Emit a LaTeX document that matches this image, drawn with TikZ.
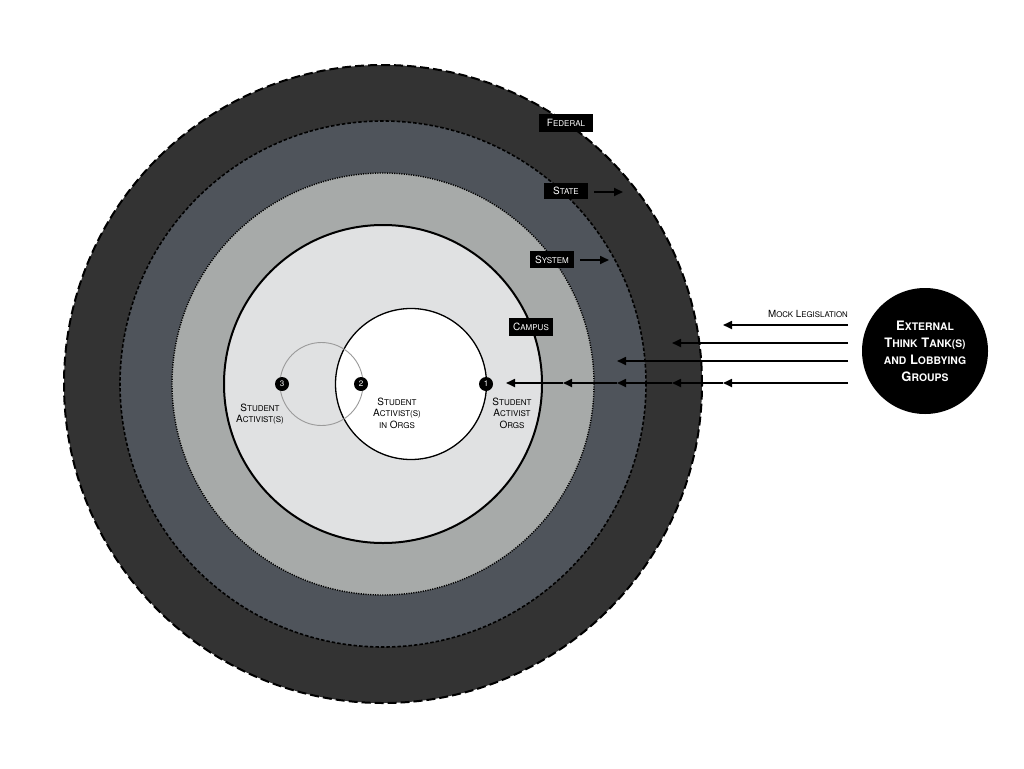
\documentclass[tikz,border=0pt]{standalone}
\usepackage{fontspec}
\setmainfont{TeX Gyre Heros}
\usetikzlibrary{arrows.meta}
\definecolor{fedc}{HTML}{333333}
\definecolor{statec}{HTML}{4F545B}
\definecolor{sysc}{HTML}{A7AAA9}
\definecolor{campc}{HTML}{E0E1E2}
\definecolor{ringc}{HTML}{9A9A9A}
\makeatletter
\newcommand\smc[1]{{\fontsize{\fpeval{0.8*\f@size}}{\f@baselineskip}\selectfont #1}}
\makeatother
\tikzset{
  ring/.style={circle, inner sep=0pt, minimum size=#1},
  tag/.style={fill=black, text=white, inner sep=0pt, minimum width=44pt, minimum height=17pt,
    font=\fontsize{10}{11}\selectfont},
  numdot/.style={circle, fill=black, text=white, inner sep=0pt, minimum size=14pt,
    font=\fontsize{8}{8}\selectfont},
  lbl/.style={align=center, font=\fontsize{10}{11.5}\selectfont},
  arr/.style={line width=1.7pt, -{Triangle[length=9pt,width=8pt]}},
}
\begin{document}
\begin{tikzpicture}[x=1pt,y=-1pt]
\useasboundingbox[fill=white] (0,0) rectangle (1024,768);
% rings
\node[ring=638, fill=fedc, draw=black, line width=2pt, dash pattern=on 9pt off 4pt] (federal) at (383,384) {};
\node[ring=526, fill=statec, draw=black, line width=1.6pt, dash pattern=on 3.5pt off 2pt] (statering) at (383,384) {};
\node[ring=422, fill=sysc, draw=black, line width=1.4pt, dash pattern=on 1.2pt off 1.2pt] (systemring) at (383,384) {};
\node[ring=318, fill=campc, draw=black, line width=2pt] (campusring) at (383,384) {};
\node[ring=151, fill=white, draw=black, line width=1.3pt] (orgring) at (411,384) {};
\node[ring=83, draw=ringc, line width=0.9pt] (activistring) at (321.5,384) {};
% level tags
\node[tag, minimum width=54pt, minimum height=18pt] (federaltag) at (566,123) {F\smc{EDERAL}};
\node[tag, minimum height=16pt] (statetag) at (566,191) {S\smc{TATE}};
\node[tag] (systemtag) at (552,259.5) {S\smc{YSTEM}};
\node[tag, minimum height=18pt] (campustag) at (531,327) {C\smc{AMPUS}};
\coordinate (stateend) at (623,192);
\coordinate (systemend) at (609,260);
\draw[arr, shorten <=6pt] (statetag.east |- stateend) -- (stateend);
\draw[arr, shorten <=6pt] (systemtag.east |- systemend) -- (systemend);
% numbered dots
\node[numdot] (n3) at (282,384) {3};
\node[numdot] (n2) at (361,384) {2};
\node[numdot] (n1) at (486,384) {1};
\node[lbl] (l3) at (260,414) {S\smc{TUDENT}\\A\smc{CTIVIST(S)}};
\node[lbl] (l2) at (397,413) {S\smc{TUDENT}\\A\smc{CTIVIST(S)}\\\smc{IN} O\smc{RGS}};
\node[lbl] (l1) at (512,413) {S\smc{TUDENT}\\A\smc{CTIVIST}\\O\smc{RGS}};
% external
\node[circle, fill=black, inner sep=0pt, minimum size=126pt, text=white, align=center,
  font=\fontsize{13}{17}\selectfont\bfseries] (external) at (925,351)
  {E\smc{XTERNAL}\\T\smc{HINK} T\smc{ANK(S)}\\\smc{AND} L\smc{OBBYING}\\G\smc{ROUPS}};
\node[anchor=east, inner sep=0pt, font=\fontsize{9.8}{10}\selectfont] (mock) at (848,314) {M\smc{OCK} L\smc{EGISLATION}};
% arrows
\coordinate (s1) at (848,325);
\coordinate (s2) at (848,343);
\coordinate (s3) at (848,361);
\coordinate (s4) at (848,383);
\coordinate (e1) at (723,325);
\coordinate (e2) at (672,343);
\coordinate (e3) at (617,361);
\coordinate (h1) at (723,383);
\coordinate (h2) at (672,383);
\coordinate (h3) at (617,383);
\coordinate (h4) at (563,383);
\coordinate (h5) at (506,383);
\draw[arr] (s1) -- (e1);
\draw[arr] (s2) -- (e2);
\draw[arr] (s3) -- (e3);
\draw[arr] (s4) -- (h1);
\draw[arr] (h1) -- (h2);
\draw[arr] (h2) -- (h3);
\draw[arr] (h3) -- (h4);
\draw[arr] (h4) -- (h5);
\end{tikzpicture}
\end{document}
